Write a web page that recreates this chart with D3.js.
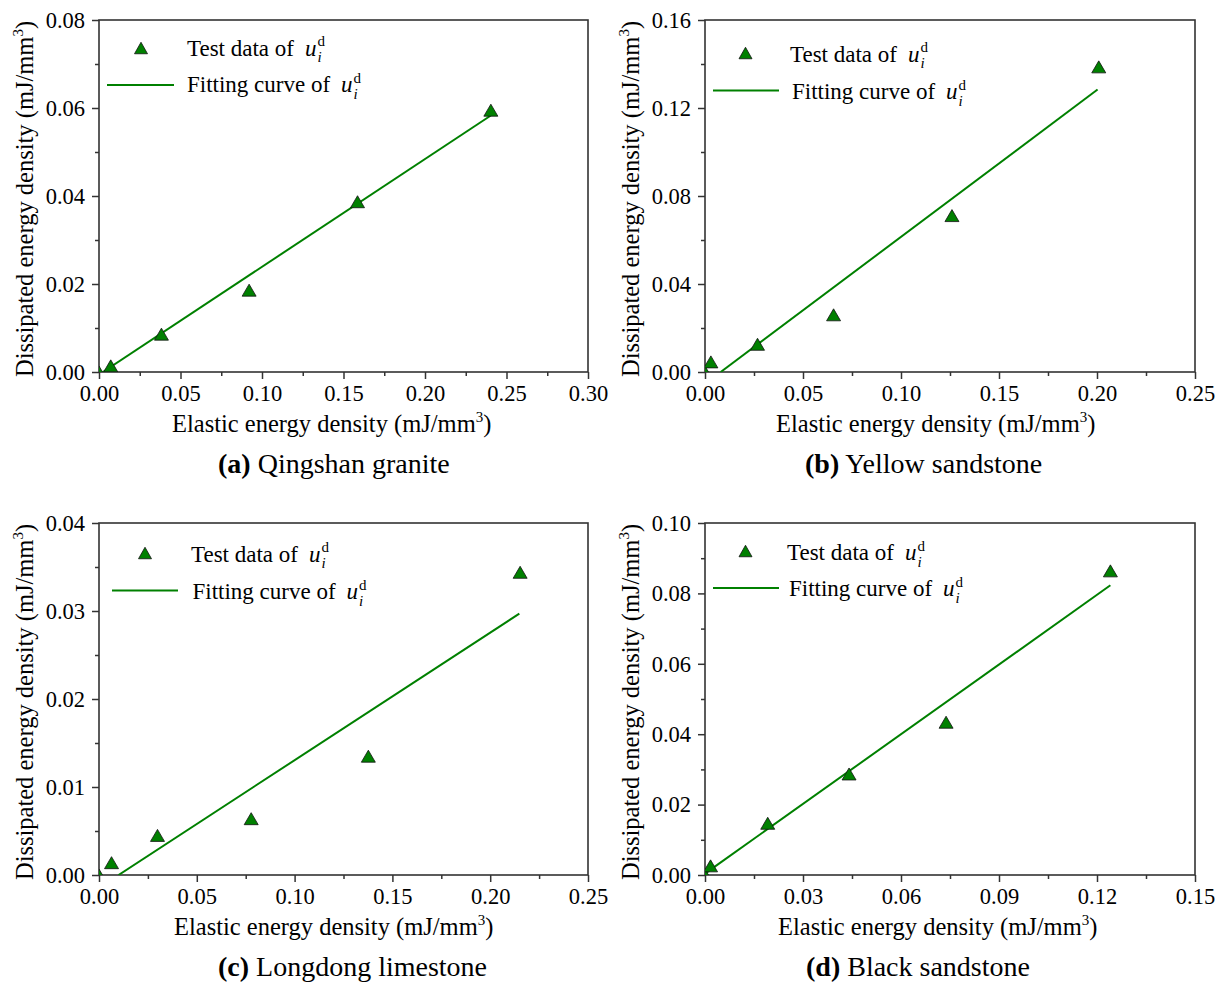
<!DOCTYPE html>
<html><head><meta charset="utf-8">
<script src="https://cdn.jsdelivr.net/npm/d3@7"></script>
<style>
body{margin:0;background:#fff}
svg text{font-family:'Liberation Serif','DejaVu Serif','Times New Roman',Times,serif !important;fill:#000}
</style>
</head><body>
<svg id="chart" width="1219" height="983"></svg>
<script>
// ---------------- DATA ----------------
const graniteX = [0, 0.0072, 0.0383, 0.0921, 0.1586, 0.2404];
const graniteY = [0, 0.0014, 0.0086, 0.0186, 0.0387, 0.0595];
const graniteFitX = [0.0024, 0.2404];
const graniteFitY = [0, 0.0583];

const yellowX = [0, 0.0030, 0.0268, 0.0656, 0.1260, 0.2009];
const yellowY = [0, 0.0046, 0.0126, 0.0260, 0.0711, 0.1387];
const yellowFitX = [0.0080, 0.2003];
const yellowFitY = [0, 0.1284];

const limeX = [0, 0.0064, 0.0299, 0.0778, 0.1377, 0.2153];
const limeY = [0, 0.0014, 0.0045, 0.0064, 0.0135, 0.0344];
const limeFitX = [0.0100, 0.2149];
const limeFitY = [0, 0.0297];

const blackX = [0, 0.0017, 0.0192, 0.0441, 0.0738, 0.1241];
const blackY = [0, 0.0026, 0.0147, 0.0287, 0.0434, 0.0864];
const blackFitX = [0, 0.1241];
const blackFitY = [0.0004, 0.0823];

const aXTicks = [0, 0.05, 0.10, 0.15, 0.20, 0.25, 0.30];
const aXLabels = ["0.00","0.05","0.10","0.15","0.20","0.25","0.30"];
const aYTicks = [0, 0.02, 0.04, 0.06, 0.08];
const aYLabels = ["0.00","0.02","0.04","0.06","0.08"];

const bXTicks = [0, 0.05, 0.10, 0.15, 0.20, 0.25];
const bXLabels = ["0.00","0.05","0.10","0.15","0.20","0.25"];
const bYTicks = [0, 0.04, 0.08, 0.12, 0.16];
const bYLabels = ["0.00","0.04","0.08","0.12","0.16"];

const cXTicks = [0, 0.05, 0.10, 0.15, 0.20, 0.25];
const cXLabels = ["0.00","0.05","0.10","0.15","0.20","0.25"];
const cYTicks = [0, 0.01, 0.02, 0.03, 0.04];
const cYLabels = ["0.00","0.01","0.02","0.03","0.04"];

const dXTicks = [0, 0.03, 0.06, 0.09, 0.12, 0.15];
const dXLabels = ["0.00","0.03","0.06","0.09","0.12","0.15"];
const dYTicks = [0, 0.02, 0.04, 0.06, 0.08, 0.10];
const dYLabels = ["0.00","0.02","0.04","0.06","0.08","0.10"];

const panelTags = ["(a)", "(b)", "(c)", "(d)"];
const panelNames = ["Qingshan granite", "Yellow sandstone", "Longdong limestone", "Black sandstone"];
const xTitle = "Elastic energy density (mJ/mm";
const yTitle = "Dissipated energy density (mJ/mm";
const legendTest = "Test data of";
const legendFit = "Fitting curve of";

// ---------------- LAYOUT ----------------
const layout = [
  {L:99,  R:588,  T:20,  B:372, xt:172, st:218, leg:{tri:[141,48], tx:187, tb:55.5, l0:107, l1:174, ly:85, fx:187, fb:92}},
  {L:705, R:1195, T:20,  B:372, xt:776, st:805, leg:{tri:[745.5,53], tx:790, tb:61.5, l0:713, l1:779, ly:90.5, fx:792, fb:99}},
  {L:99,  R:588,  T:523, B:875, xt:174, st:218, leg:{tri:[145,553], tx:191, tb:561.5, l0:112, l1:178, ly:590.5, fx:192.5, fb:599}},
  {L:705, R:1195, T:523, B:875, xt:778, st:806, leg:{tri:[745.5,551], tx:787, tb:560, l0:713, l1:779, ly:588, fx:789, fb:596}}
];

const panels = [
  {xs:graniteX, ys:graniteY, fx:graniteFitX, fy:graniteFitY, xt:aXTicks, xl:aXLabels, yt:aYTicks, yl:aYLabels},
  {xs:yellowX, ys:yellowY, fx:yellowFitX, fy:yellowFitY, xt:bXTicks, xl:bXLabels, yt:bYTicks, yl:bYLabels},
  {xs:limeX, ys:limeY, fx:limeFitX, fy:limeFitY, xt:cXTicks, xl:cXLabels, yt:cYTicks, yl:cYLabels},
  {xs:blackX, ys:blackY, fx:blackFitX, fy:blackFitY, xt:dXTicks, xl:dXLabels, yt:dYTicks, yl:dYLabels}
];

const FONT = "'Liberation Serif','DejaVu Serif','Times New Roman',Times,serif";
const GREEN = "#008000";
const AXIS = "#333333";
const svg = d3.select("#chart").attr("font-family", FONT);

function triPath(w, h) {
  return `M0,${-h/2}L${w/2},${h/2}L${-w/2},${h/2}Z`;
}

function uLabel(g, x, baseline, size) {
  g.append("text").attr("x", x).attr("y", baseline).attr("font-family", FONT)
    .style("font-size", size + "px").style("font-style", "italic").text("u");
  const ix = x + size * 0.5 + 1;
  g.append("text").attr("x", ix).attr("y", baseline + 6.5).attr("font-family", FONT)
    .style("font-size", "15px").style("font-style", "italic").text("i");
  g.append("text").attr("x", ix).attr("y", baseline - 9.5).attr("font-family", FONT)
    .style("font-size", "15px").text("d");
}

panels.forEach((p, k) => {
  const lay = layout[k];
  const g = svg.append("g").attr("font-family", FONT);
  const x = d3.scaleLinear().domain([p.xt[0], p.xt[p.xt.length-1]]).range([lay.L, lay.R]);
  const y = d3.scaleLinear().domain([p.yt[0], p.yt[p.yt.length-1]]).range([lay.B, lay.T]);

  const clipId = "clip" + k;
  svg.append("clipPath").attr("id", clipId).append("rect")
    .attr("x", lay.L).attr("y", lay.T).attr("width", lay.R - lay.L).attr("height", lay.B - lay.T);

  const xMinor = d3.pairs(p.xt).map(d => (d[0] + d[1]) / 2);
  const yMinor = d3.pairs(p.yt).map(d => (d[0] + d[1]) / 2);

  const gxMinor = g.append("g").attr("transform", `translate(0,${lay.B})`)
    .call(d3.axisBottom(x).tickValues(xMinor).tickSize(4).tickFormat(""));
  const gyMinor = g.append("g").attr("transform", `translate(${lay.L},0)`)
    .call(d3.axisLeft(y).tickValues(yMinor).tickSize(4).tickFormat(""));

  const gx = g.append("g").attr("transform", `translate(0,${lay.B})`)
    .call(d3.axisBottom(x).tickValues(p.xt).tickSize(7).tickPadding(6)
      .tickFormat((d, i) => p.xl[i]));
  const gy = g.append("g").attr("transform", `translate(${lay.L},0)`)
    .call(d3.axisLeft(y).tickValues(p.yt).tickSize(7).tickPadding(7)
      .tickFormat((d, i) => p.yl[i]));

  [gxMinor, gyMinor, gx, gy].forEach(a => {
    a.attr("font-family", FONT).attr("font-size", 22);
    a.select(".domain").remove();
    a.selectAll(".tick line").attr("stroke", AXIS).attr("stroke-width", 1.5);
    a.selectAll("text").attr("fill", "#000").attr("font-family", FONT).style("font-size", "22.5px");
  });

  g.append("rect").attr("x", lay.L).attr("y", lay.T)
    .attr("width", lay.R - lay.L).attr("height", lay.B - lay.T)
    .attr("fill", "none").attr("stroke", AXIS).attr("stroke-width", 1.6);

  const pts = p.fx.map((d, i) => [d, p.fy[i]]);
  g.append("path").datum(pts)
    .attr("clip-path", `url(#${clipId})`)
    .attr("d", d3.line().x(d => x(d[0])).y(d => y(d[1])))
    .attr("fill", "none").attr("stroke", GREEN).attr("stroke-width", 2);

  g.append("g").attr("clip-path", `url(#${clipId})`)
    .selectAll("path").data(p.xs.map((d, i) => [d, p.ys[i]])).join("path")
    .attr("transform", d => `translate(${x(d[0])},${y(d[1])})`)
    .attr("d", triPath(14, 12))
    .attr("fill", GREEN).attr("stroke", "#111").attr("stroke-width", 0.8);

  const xtEl = g.append("text").attr("x", lay.xt).attr("y", lay.B + 60)
    .attr("font-family", FONT).style("font-size", "24.5px");
  xtEl.append("tspan").text(xTitle);
  xtEl.append("tspan").attr("dy", -10).style("font-size", "15px").text("3");
  xtEl.append("tspan").attr("dy", 10).text(")");

  const ytEl = g.append("text")
    .attr("transform", `translate(${lay.L - 66},${(lay.T + lay.B) / 2 + 3}) rotate(-90)`)
    .attr("text-anchor", "middle").attr("font-family", FONT).style("font-size", "24.5px");
  ytEl.append("tspan").text(yTitle);
  ytEl.append("tspan").attr("dy", -10).style("font-size", "15px").text("3");
  ytEl.append("tspan").attr("dy", 10).text(")");

  const st = g.append("text").attr("x", lay.st).attr("y", lay.B + 101)
    .attr("font-family", FONT).style("font-size", "28px");
  st.append("tspan").style("font-weight", "bold").text(panelTags[k]);
  st.append("tspan").text(" " + panelNames[k]);

  const lg = lay.leg;
  const leg = g.append("g");
  leg.append("path").attr("transform", `translate(${lg.tri[0]},${lg.tri[1]})`)
    .attr("d", triPath(13, 11.5)).attr("fill", GREEN).attr("stroke", "#111").attr("stroke-width", 0.8);
  const t1 = leg.append("text").attr("x", lg.tx).attr("y", lg.tb).attr("font-family", FONT)
    .style("font-size", "23px").text(legendTest);
  uLabel(leg, lg.tx + t1.node().getComputedTextLength() + 11, lg.tb, 23);
  leg.append("line").attr("x1", lg.l0).attr("x2", lg.l1).attr("y1", lg.ly).attr("y2", lg.ly)
    .attr("stroke", GREEN).attr("stroke-width", 2);
  const t2 = leg.append("text").attr("x", lg.fx).attr("y", lg.fb).attr("font-family", FONT)
    .style("font-size", "23px").text(legendFit);
  uLabel(leg, lg.fx + t2.node().getComputedTextLength() + 11, lg.fb, 23);
});
</script>
</body></html>
